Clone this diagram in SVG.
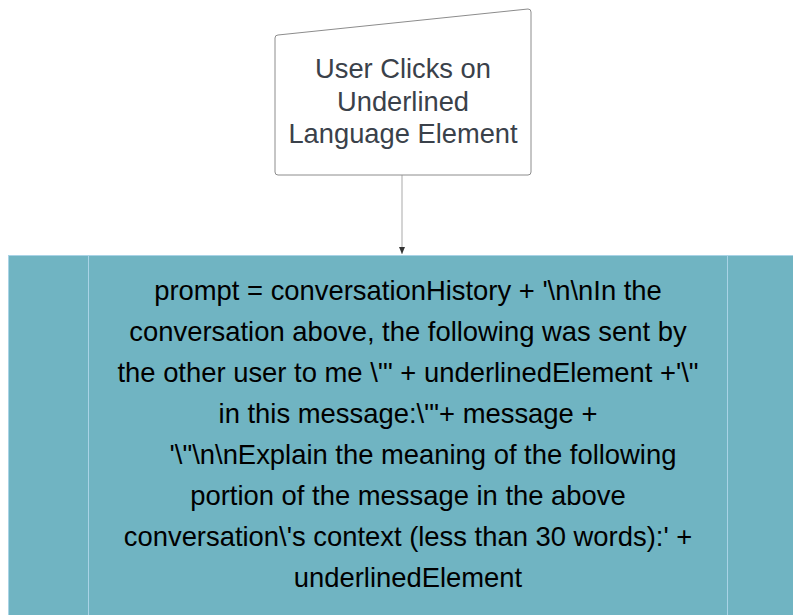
<svg xmlns="http://www.w3.org/2000/svg" width="793" height="615" viewBox="0 0 793 615">
<style>
.t1{font-family:"Liberation Sans",Arial,sans-serif;font-size:27.3px;fill:#3a414a;text-anchor:middle}
.t2{font-family:"Liberation Sans",Arial,sans-serif;font-size:27.4px;fill:#000;text-anchor:middle}
</style>
<defs>
<marker id="ah" markerWidth="8" markerHeight="8" refX="7" refY="3.5" orient="auto" markerUnits="userSpaceOnUse" viewBox="0 0 8 8">
<path d="M0,0.5 L7,3.5 L0,6.5 Z" fill="#333"/>
</marker>
</defs>
<rect width="793" height="615" fill="#fff"/>
<g id="connectors">
<line x1="402" y1="175" x2="402" y2="254" stroke="#b8b8b8" stroke-width="1.2" marker-end="url(#ah)"/>
</g>
<g id="node-click">
<path d="M278,35 L528,9 Q531,9 531,12 L531,172 Q531,175 528,175 L278,175 Q275,175 275,172 L275,38 Q275,35 278,35 Z" fill="#fff" stroke="#8c8c8c" stroke-width="1"/>
<text class="t1" x="403" y="78">User Clicks on</text>
<text class="t1" x="403" y="111">Underlined</text>
<text class="t1" x="403" y="143">Language Element</text>
</g>
<g id="node-prompt">
<rect x="8.5" y="255.5" width="800" height="370" fill="#70b4c2" stroke="#a9d3e6" stroke-width="1"/>
<line x1="88.5" y1="256" x2="88.5" y2="615" stroke="#a9d3e6" stroke-width="1"/>
<line x1="727.5" y1="256" x2="727.5" y2="615" stroke="#a9d3e6" stroke-width="1"/>
<text class="t2" x="408" y="300">prompt = conversationHistory + '\n\nIn the</text>
<text class="t2" x="408" y="341">conversation above, the following was sent by</text>
<text class="t2" x="408" y="382">the other user to me \'" + underlinedElement +'\"</text>
<text class="t2" x="408" y="423">in this message:\'"+ message +</text>
<text class="t2" x="423" y="464">'\"\n\nExplain the meaning of the following</text>
<text class="t2" x="408" y="505">portion of the message in the above</text>
<text class="t2" x="408" y="546">conversation\'s context (less than 30 words):' +</text>
<text class="t2" x="408" y="587">underlinedElement</text>
</g>
</svg>
